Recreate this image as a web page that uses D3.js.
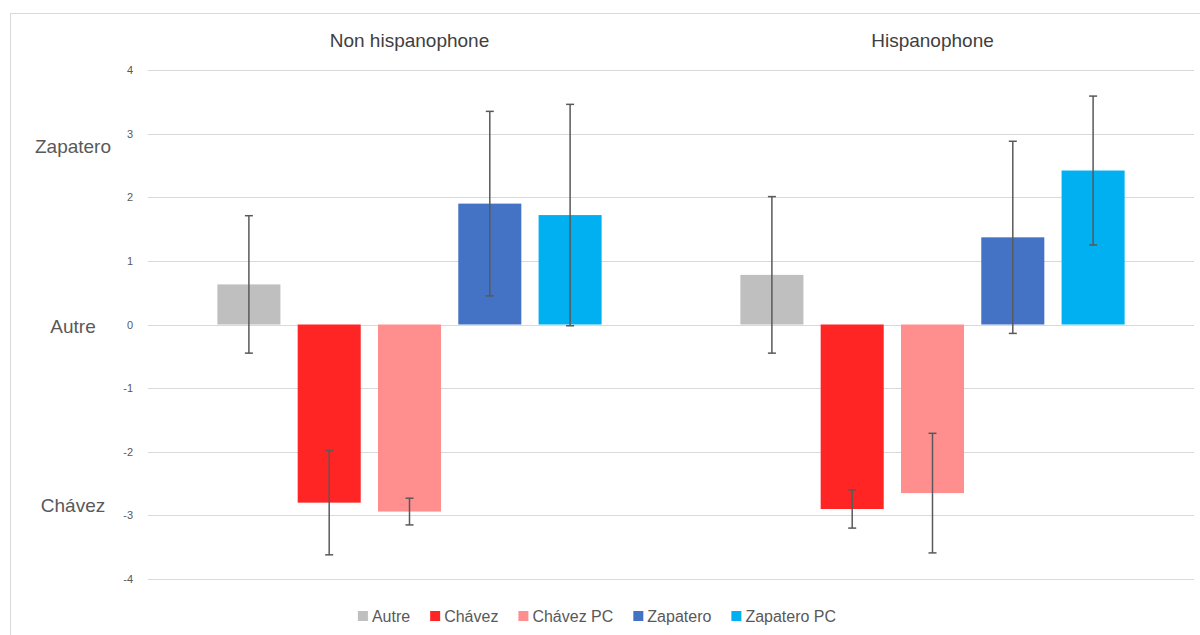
<!DOCTYPE html>
<html><head><meta charset="utf-8">
<script src="https://cdn.jsdelivr.net/npm/d3@7"></script>
<style>
html,body{margin:0;padding:0;background:#fff;}
svg{display:block;font-family:"Liberation Sans",Arial,sans-serif;}
</style></head>
<body><svg id="c" width="1200" height="635"></svg>
<script>
const categories = ["Non hispanophone", "Hispanophone"];
const series = ["Autre", "Chávez", "Chávez PC", "Zapatero", "Zapatero PC"];
const colors = ["#BFBFBF", "#FF2525", "#FF8F8F", "#4472C4", "#00B0F0"];
const valuesNonHisp = [0.63, -2.80, -2.94, 1.90, 1.72];
const valuesHisp = [0.78, -2.90, -2.65, 1.37, 2.42];
const errNonHisp = [1.08, 0.82, 0.21, 1.45, 1.74];
const errHisp = [1.23, 0.30, 0.94, 1.51, 1.17];
const yTicks = [-4, -3, -2, -1, 0, 1, 2, 3, 4];
const sideLabels = [{text: "Zapatero", v: 2.8}, {text: "Autre", v: -0.03}, {text: "Chávez", v: -2.85}];

const values = [valuesNonHisp, valuesHisp];
const errs = [errNonHisp, errHisp];

const svg = d3.select("#c");
const plotL = 148, plotR = 1194, plotT = 70, plotB = 579;

// chart border
svg.append("rect").attr("x", 10.5).attr("y", 13.5).attr("width", 1200).attr("height", 640)
  .attr("fill", "#fff").attr("stroke", "#D9D9D9").attr("stroke-width", 1);

const x0 = d3.scaleBand().domain(categories).range([plotL, plotR]).padding(0);
const x1 = d3.scaleBand().domain(series).range([0, x0.bandwidth()])
  .paddingInner(0.215).paddingOuter(0.864);
const y = d3.scaleLinear().domain([-4, 4]).range([plotB, plotT]);

// gridlines
svg.append("g").selectAll("line").data(yTicks).join("line")
  .attr("x1", plotL).attr("x2", plotR)
  .attr("y1", d => Math.round(y(d)) + 0.5).attr("y2", d => Math.round(y(d)) + 0.5)
  .attr("stroke", "#D9D9D9").attr("stroke-width", 1);

// y axis labels
const yAxis = d3.axisLeft(y).tickValues(yTicks).tickSize(0).tickPadding(0).tickFormat(d => String(d));
const ya = svg.append("g").attr("transform", `translate(${plotL - 15},0)`).call(yAxis);
ya.select(".domain").remove();
ya.selectAll("text").attr("fill", "#595959").style("font-size", "11px")
  .style("font-family", '"Liberation Sans",Arial,sans-serif');

// side labels
svg.append("g").selectAll("text").data(sideLabels).join("text")
  .attr("x", 73).attr("y", d => y(d.v)).attr("dy", "0.35em")
  .attr("text-anchor", "middle").attr("fill", "#595959").style("font-size", "19px")
  .text(d => d.text);

// category titles
svg.append("g").selectAll("text").data(categories).join("text")
  .attr("x", d => x0(d) + x0.bandwidth() / 2).attr("y", 40).attr("dy", "0.35em")
  .attr("text-anchor", "middle").attr("fill", "#404040").style("font-size", "19px")
  .text(d => d);

// bars
const data = [];
categories.forEach((c, ci) => series.forEach((s, si) => data.push({c, s, si, v: values[ci][si], e: errs[ci][si]})));

svg.append("g").selectAll("rect").data(data).join("rect")
  .attr("x", d => x0(d.c) + x1(d.s))
  .attr("width", x1.bandwidth())
  .attr("y", d => y(Math.max(0, d.v)))
  .attr("height", d => Math.abs(y(d.v) - y(0)))
  .attr("fill", d => colors[d.si]);

// error bars
const eg = svg.append("g").attr("stroke", "#595959").attr("stroke-width", 1.5);
const cx = d => x0(d.c) + x1(d.s) + x1.bandwidth() / 2;
eg.selectAll("line.v").data(data).join("line").attr("class", "v")
  .attr("x1", cx).attr("x2", cx)
  .attr("y1", d => y(d.v + d.e)).attr("y2", d => y(d.v - d.e));
eg.selectAll("line.t").data(data).join("line").attr("class", "t")
  .attr("x1", d => cx(d) - 4).attr("x2", d => cx(d) + 4)
  .attr("y1", d => y(d.v + d.e)).attr("y2", d => y(d.v + d.e));
eg.selectAll("line.b").data(data).join("line").attr("class", "b")
  .attr("x1", d => cx(d) - 4).attr("x2", d => cx(d) + 4)
  .attr("y1", d => y(d.v - d.e)).attr("y2", d => y(d.v - d.e));

// legend
const lg = svg.append("g");
const items = lg.selectAll("g").data(series).join("g");
items.append("rect").attr("width", 10).attr("height", 10).attr("y", -5).attr("fill", (d, i) => colors[i]);
items.append("text").attr("x", 14).attr("dy", "0.35em").attr("fill", "#595959")
  .style("font-size", "16px").text(d => d);
let xpos = 0;
items.each(function() {
  d3.select(this).attr("transform", `translate(${xpos},616)`);
  xpos += 14 + d3.select(this).select("text").node().getComputedTextLength() + 20;
});
const total = xpos - 20;
lg.attr("transform", `translate(${597 - total / 2},0)`);
</script>
</body></html>
